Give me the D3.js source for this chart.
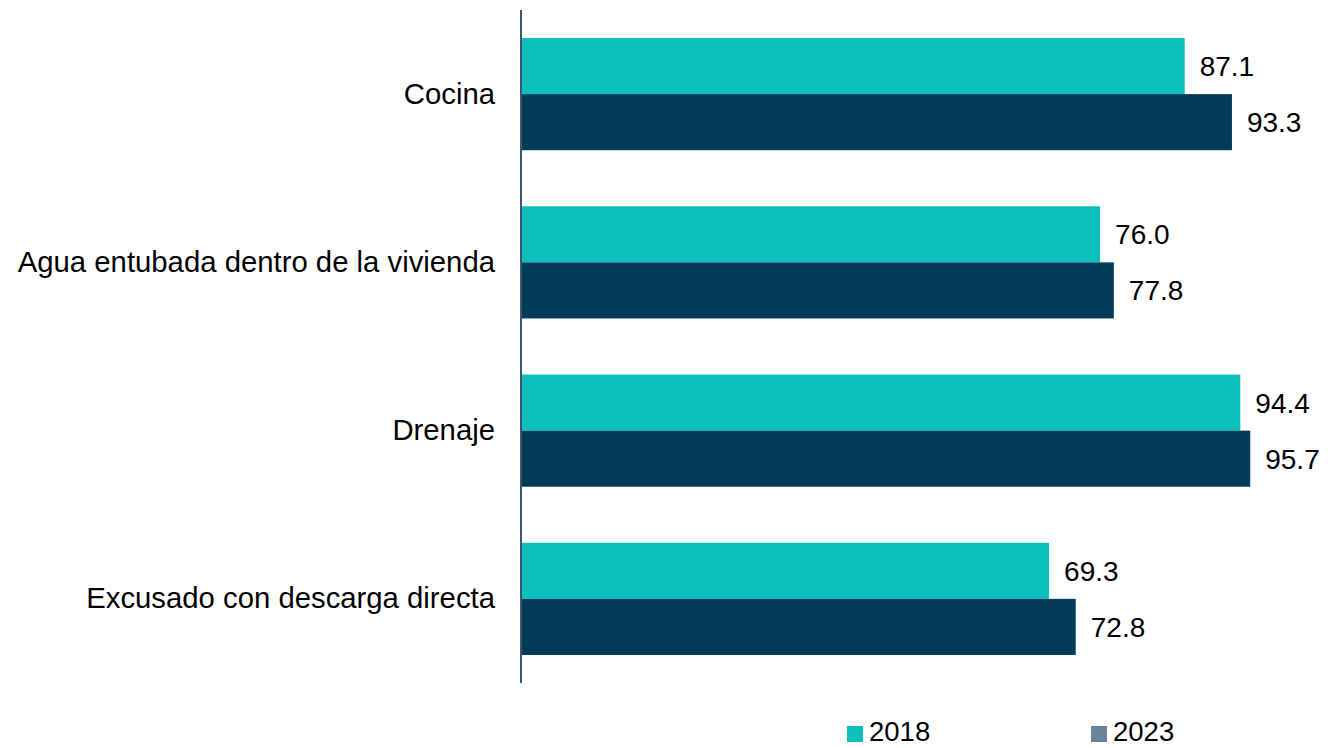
<!DOCTYPE html>
<html>
<head>
<meta charset="utf-8">
<script src="https://cdn.jsdelivr.net/npm/d3@7"></script>
<style>
  html, body { margin: 0; padding: 0; background: #fff; }
  svg { display: block; font-family: "Liberation Sans", Arial, sans-serif; }
</style>
</head>
<body>
<svg id="chart" width="1328" height="748"></svg>
<script>
const categories = ["Cocina", "Agua entubada dentro de la vivienda", "Drenaje", "Excusado con descarga directa"];
const seriesNames = ["2018", "2023"];
const values2018 = [87.1, 76.0, 94.4, 69.3];
const values2023 = [93.3, 77.8, 95.7, 72.8];
const barColors = ["#0dc0bc", "#023a57"];
const legendColors = ["#0dc0bc", "#6b8299"];

const svg = d3.select("#chart");
const x0 = 521, x1 = 1283, yTop = 10, yBot = 683;

const x = d3.scaleLinear().domain([0, 100]).range([x0, x1]);
const y = d3.scaleBand().domain(categories).range([yTop, yBot]).paddingInner(1/3).paddingOuter(1/6);
const ySub = d3.scaleBand().domain(seriesNames).range([0, y.bandwidth()]);

const rows = categories.map((c, i) => ({ cat: c, vals: [values2018[i], values2023[i]] }));

const g = svg.append("g");
rows.forEach(r => {
  r.vals.forEach((v, j) => {
    const yy = y(r.cat) + ySub(seriesNames[j]);
    g.append("rect")
      .attr("x", x(0))
      .attr("y", yy)
      .attr("width", x(v) - x(0))
      .attr("height", ySub.bandwidth())
      .attr("fill", barColors[j]);
    g.append("text")
      .attr("x", x(v) + 15)
      .attr("y", yy + ySub.bandwidth() / 2)
      .attr("dy", "0.36em")
      .attr("font-size", 28)
      .attr("fill", "#000")
      .text(v.toFixed(1));
  });
});

// category axis
const axis = d3.axisLeft(y).tickSize(0).tickPadding(26);
const ag = svg.append("g").attr("transform", `translate(${x0},0)`).call(axis);
ag.select(".domain").attr("stroke", "#3b5670").attr("stroke-width", 2).attr("d", `M0,${yTop}V${yBot}`);
ag.selectAll("text").attr("font-size", 29.3).attr("fill", "#000").attr("font-family", "Liberation Sans, Arial, sans-serif");

// legend
const legendX = [847, 1091];
seriesNames.forEach((s, j) => {
  svg.append("rect").attr("x", legendX[j]).attr("y", 726).attr("width", 16).attr("height", 16).attr("fill", legendColors[j]);
  svg.append("text").attr("x", legendX[j] + 22).attr("y", 741)
    .attr("font-size", 27.5).attr("fill", "#000").text(s);
});
</script>
</body>
</html>
